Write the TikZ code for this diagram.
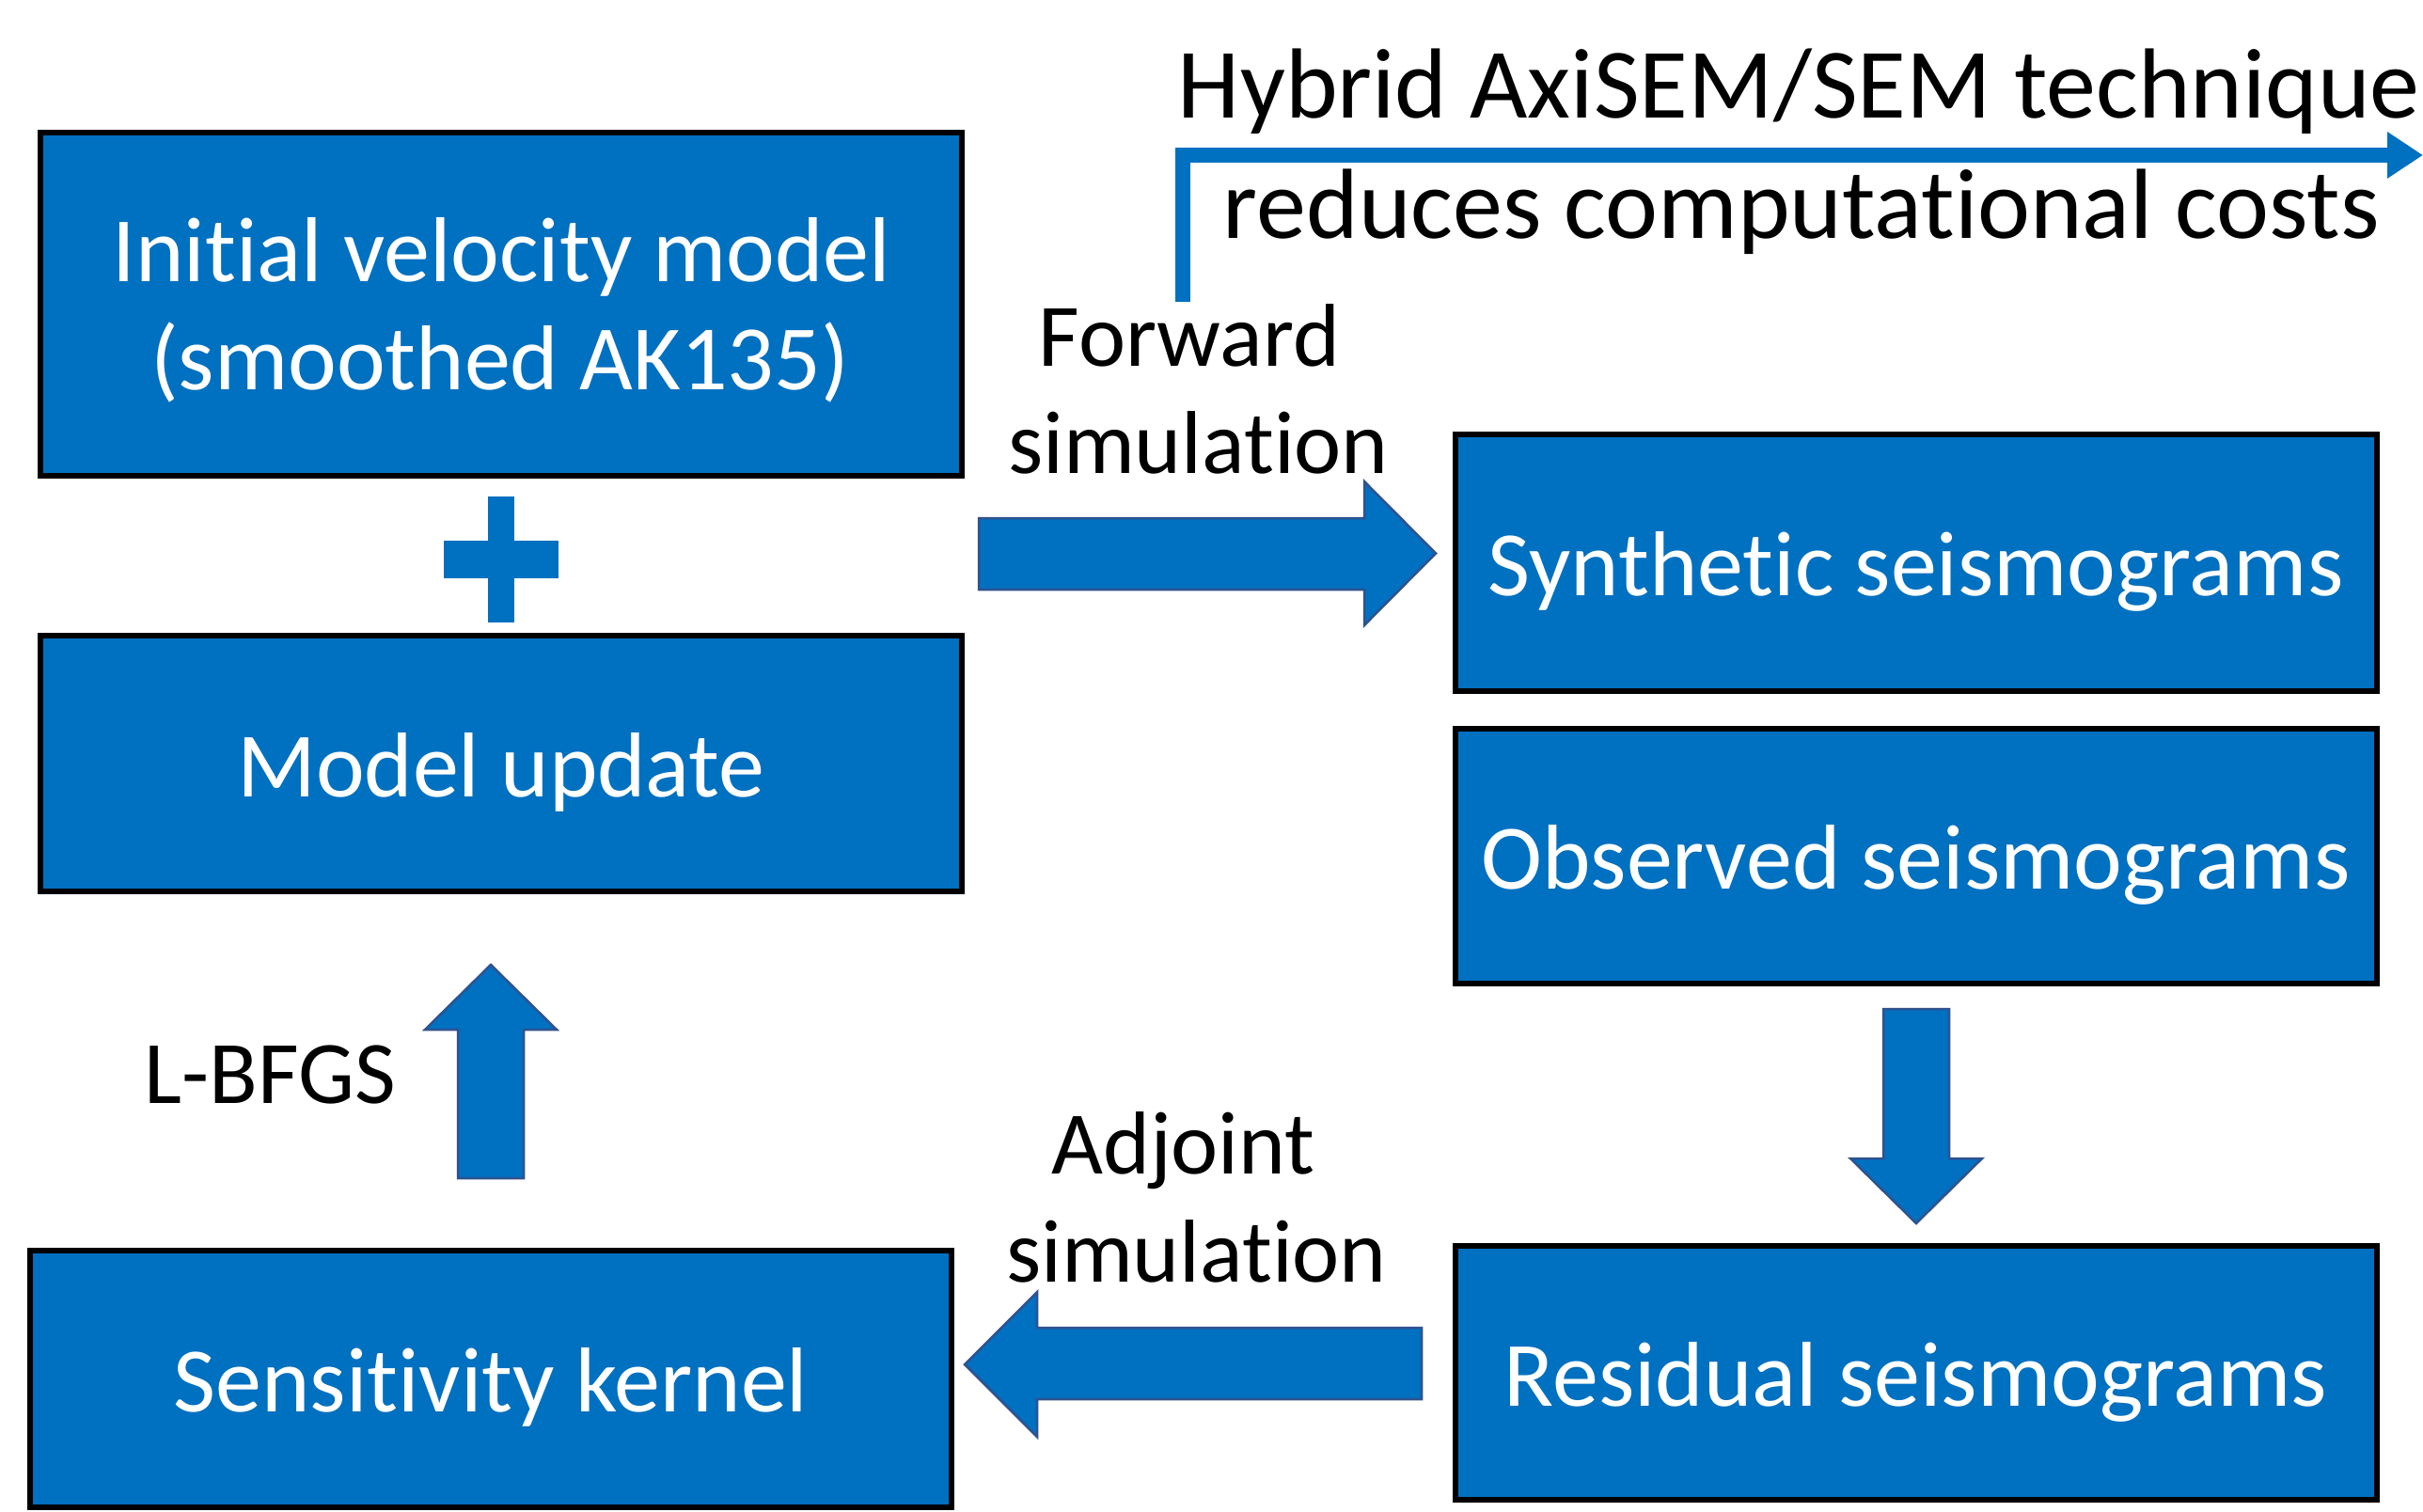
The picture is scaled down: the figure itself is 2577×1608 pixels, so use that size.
\documentclass[tikz,border=0pt]{standalone}
\usepackage{fontspec}
\setmainfont{Carlito}[Ligatures={NoCommon,NoContextual}]
\usetikzlibrary{arrows.meta}
\definecolor{boxblue}{HTML}{0070C0}
\definecolor{edgeblue}{HTML}{2F528F}
% keeps "t" and "i" as separate glyphs
\newcommand{\tisep}{\kern0pt}

\begin{document}
\begin{tikzpicture}[x=1pt,y=-1pt,
  stage/.style={draw=black, line width=6pt, fill=boxblue, text=white,
    minimum width=980pt, minimum height=273pt, inner sep=0pt,
    font=\fontsize{98}{115}\selectfont, text height=70pt, text depth=0pt},
  stagetext/.style={anchor=base, inner sep=0pt, text=white,
    font=\fontsize{98}{115}\selectfont},
  steplabel/.style={anchor=base, inner sep=0pt, text=black,
    font=\fontsize{95}{114}\selectfont},
  headline/.style={anchor=base, inner sep=0pt, text=black,
    font=\fontsize{106}{127}\selectfont},
  blockarrow/.style={fill=boxblue, draw=edgeblue, line width=2.5pt, line join=miter},
  bracketarrow/.style={draw=boxblue, line width=16pt, line join=miter,
    -{Triangle[length=38pt,width=47pt]}}
]
% canvas
\fill[white] (0,0) rectangle (2577,1608);
\useasboundingbox (0,0) rectangle (2577,1608);

% left column
\node[stage, minimum height=365pt] (init) at (533,323.5) {};
\node[stagetext] (initA) at (533.5,299) {Initial velocity model};
\node[stagetext] (initB) at (531.5,414) {(smoothed AK135)};
\node[stage, minimum height=272pt] (update) at (533,812) {Model update};
\node[stage] (kernel) at (522,1466.5) {Sensit\tisep ivity kernel};

% right column
\node[stage] (synth) at (2037.5,598.5) {Synthet\tisep ic seismograms};
\node[stage, minimum height=271pt] (obs) at (2037.5,910.5) {Observed seismograms};
\node[stage, minimum height=270pt] (resid) at (2037.5,1460) {Residual seismograms};

% plus sign between initial model and update
\fill[boxblue] (519,528) rectangle (547,662);
\fill[boxblue] (472,575) rectangle (594,615);

% block arrows
\draw[blockarrow] (1041,551) -- (1451,551) -- (1451,512) -- (1527,588.5)
  -- (1451,665) -- (1451,627) -- (1041,627) -- cycle;
\draw[blockarrow] (2003,1073) -- (2073,1073) -- (2073,1232) -- (2108,1232)
  -- (2038,1301) -- (1968,1232) -- (2003,1232) -- cycle;
\draw[blockarrow] (1512,1412) -- (1103,1412) -- (1103,1374) -- (1026,1451)
  -- (1103,1528) -- (1103,1488) -- (1512,1488) -- cycle;
\draw[blockarrow] (487,1253) -- (487,1095) -- (452,1095) -- (522,1026)
  -- (592,1095) -- (557,1095) -- (557,1253) -- cycle;

% step labels
\node[steplabel] (fwdA) at (1265,389) {Forward};
\node[steplabel] (fwdB) at (1274.5,503) {simulat\tisep ion};
\node[steplabel] (adjA) at (1258.5,1248) {Adjoint};
\node[steplabel] (adjB) at (1272.5,1363) {simulat\tisep ion};
\node[steplabel] (lbfgs) at (287.5,1173) {L-BFGS};

% hybrid technique note with bent arrow
\node[headline] (hybA) at (1913.5,126) {Hybrid AxiSEM/SEM technique};
\node[headline] (hybB) at (1916,253) {reduces computat\tisep ional costs};
\coordinate (hybStart) at (1258,321);
\coordinate (hybEnd) at (2577,165);
\draw[bracketarrow] (hybStart) |- (hybEnd);
\end{tikzpicture}
\end{document}
